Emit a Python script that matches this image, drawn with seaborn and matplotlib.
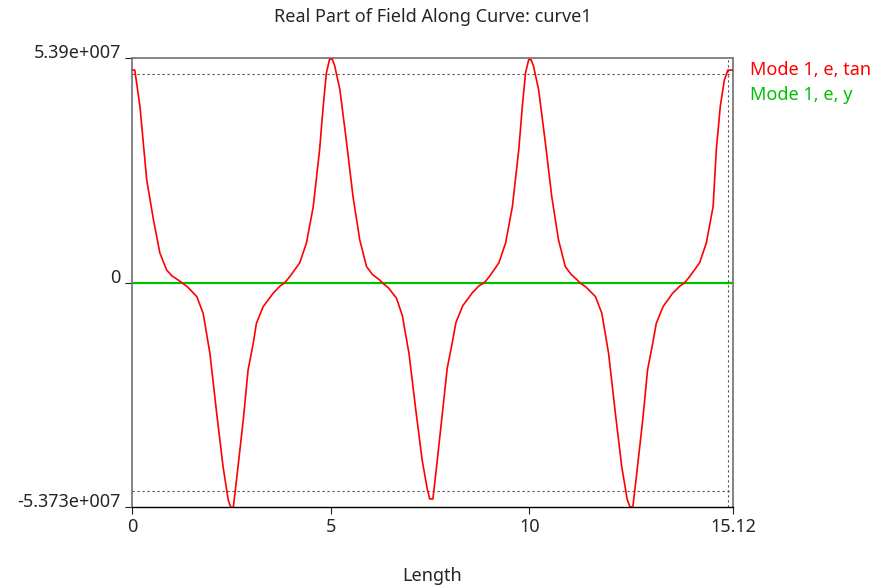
import matplotlib
matplotlib.use("Agg")
import matplotlib.pyplot as plt
import seaborn as sns
import pandas as pd

# values (y in units of 1e7)
length = [0.00, 0.07, 0.20, 0.37, 0.54, 0.70, 0.87, 1.00, 1.16, 1.26, 1.40, 1.63, 1.79, 1.96, 2.13, 2.29, 2.42, 2.48, 2.55, 2.63, 2.80, 2.92, 3.05, 3.13, 3.30, 3.55, 3.72, 3.84, 3.97, 4.22, 4.39, 4.56, 4.72, 4.81, 4.89, 4.97,
          5.04, 5.10, 5.23, 5.39, 5.56, 5.73, 5.90, 6.05, 6.23, 6.30, 6.45, 6.65, 6.80, 6.97, 7.14, 7.30, 7.43, 7.49, 7.57, 7.64, 7.80, 7.93, 8.06, 8.15, 8.32, 8.56, 8.73, 8.86, 8.99, 9.23, 9.40, 9.57, 9.73, 9.82, 9.90, 9.98,
          10.04, 10.10, 10.23, 10.39, 10.56, 10.73, 10.90, 11.05, 11.20, 11.27, 11.42, 11.66, 11.82, 11.99, 12.16, 12.32, 12.46, 12.53, 12.60, 12.68, 12.85, 12.97, 13.10, 13.19, 13.36, 13.60, 13.78, 13.90, 14.03, 14.28, 14.45, 14.62, 14.70, 14.80, 14.90, 14.99, 15.12]
e_tan = [5.10, 5.10, 4.23, 2.47, 1.51, 0.72, 0.31, 0.17, 0.07, 0.00, -0.10, -0.33, -0.73, -1.69, -3.12, -4.40, -5.20, -5.37, -5.37, -4.72, -3.28, -2.09, -1.45, -0.97, -0.57, -0.25, -0.08, 0.00, 0.15, 0.48, 0.96, 1.83, 3.19, 4.23, 5.03, 5.36,
         5.36, 5.20, 4.63, 3.43, 2.07, 1.03, 0.39, 0.20, 0.07, 0.00, -0.12, -0.36, -0.78, -1.70, -3.05, -4.25, -4.95, -5.18, -5.18, -4.60, -3.20, -2.05, -1.42, -0.95, -0.55, -0.24, -0.07, 0.00, 0.15, 0.48, 0.96, 1.83, 3.19, 4.23, 5.03, 5.35,
         5.35, 5.20, 4.63, 3.43, 2.07, 1.03, 0.39, 0.20, 0.07, 0.00, -0.10, -0.33, -0.73, -1.69, -3.12, -4.40, -5.20, -5.37, -5.37, -4.72, -3.28, -2.09, -1.45, -0.97, -0.57, -0.25, -0.08, 0.00, 0.15, 0.48, 0.96, 1.83, 3.19, 4.23, 4.85, 5.10, 5.10]
length_y = [0.00, 15.12]
e_y = [0.0, 0.0]

x_ticks = [0, 5, 10, 15.12]
x_tick_labels = ["0", "5", "10", "15.12"]
y_ticks = [-5.373e7, 0, 5.39e7]
y_tick_labels = ["-5.373e+007", "0", "5.39e+007"]
x_grid = [5, 10, 15]
y_grid = [-5e7, 0, 5e7]

df_tan = pd.DataFrame({"Length": length, "val": [v * 1e7 for v in e_tan]})
df_y = pd.DataFrame({"Length": length_y, "val": e_y})

sns.set_style("white")
plt.rcParams["font.family"] = ["Noto Sans", "DejaVu Sans"]

fig = plt.figure(figsize=(8.89, 5.87), dpi=100)
ax = fig.add_axes([132 / 889, 1 - 507 / 587, (733 - 132) / 889, (507 - 58) / 587])

sns.lineplot(data=df_tan, x="Length", y="val", color="#ff0000", linewidth=1.2, ax=ax, zorder=3)
sns.lineplot(data=df_y, x="Length", y="val", color="#00c000", linewidth=1.6, ax=ax, zorder=2)

ax.set_xlim(0, 15.12)
ax.set_ylim(-5.373e7, 5.39e7)
ax.set_xticks(x_ticks)
ax.set_xticklabels(x_tick_labels)
ax.set_yticks(y_ticks)
ax.set_yticklabels(y_tick_labels)
ax.set_xticks(x_grid, minor=True)
ax.set_yticks(y_grid, minor=True)
ax.grid(which="minor", linestyle=(0, (2, 2.5)), color="#505050", linewidth=0.8)
ax.tick_params(which="major", direction="out", length=5, width=0.8, color="#202020",
               labelsize=13, pad=3, left=True, bottom=True)
ax.tick_params(which="minor", length=0)
for t in ax.get_yticklabels():
    t.set_va("baseline")

for side in ["left", "top", "right"]:
    ax.spines[side].set_color("#707070")
    ax.spines[side].set_linewidth(1.2)
ax.spines["bottom"].set_color("black")
ax.spines["bottom"].set_linewidth(1.0)

ax.set_ylabel("")
ax.set_xlabel("Length", fontsize=13)
ax.xaxis.set_label_coords(0.5, -0.154)
ax.xaxis.label.set_va("center")

fig.text(0.4865, 1 - 17 / 587, "Real Part of Field Along Curve: curve1", ha="center", va="center", fontsize=13)
fig.text(750 / 889, 1 - 70 / 587, "Mode 1, e, tan", color="#ff0000", ha="left", va="center", fontsize=13)
fig.text(750 / 889, 1 - 95 / 587, "Mode 1, e, y", color="#00c000", ha="left", va="center", fontsize=13)

fig.savefig("out.png", dpi=100)
